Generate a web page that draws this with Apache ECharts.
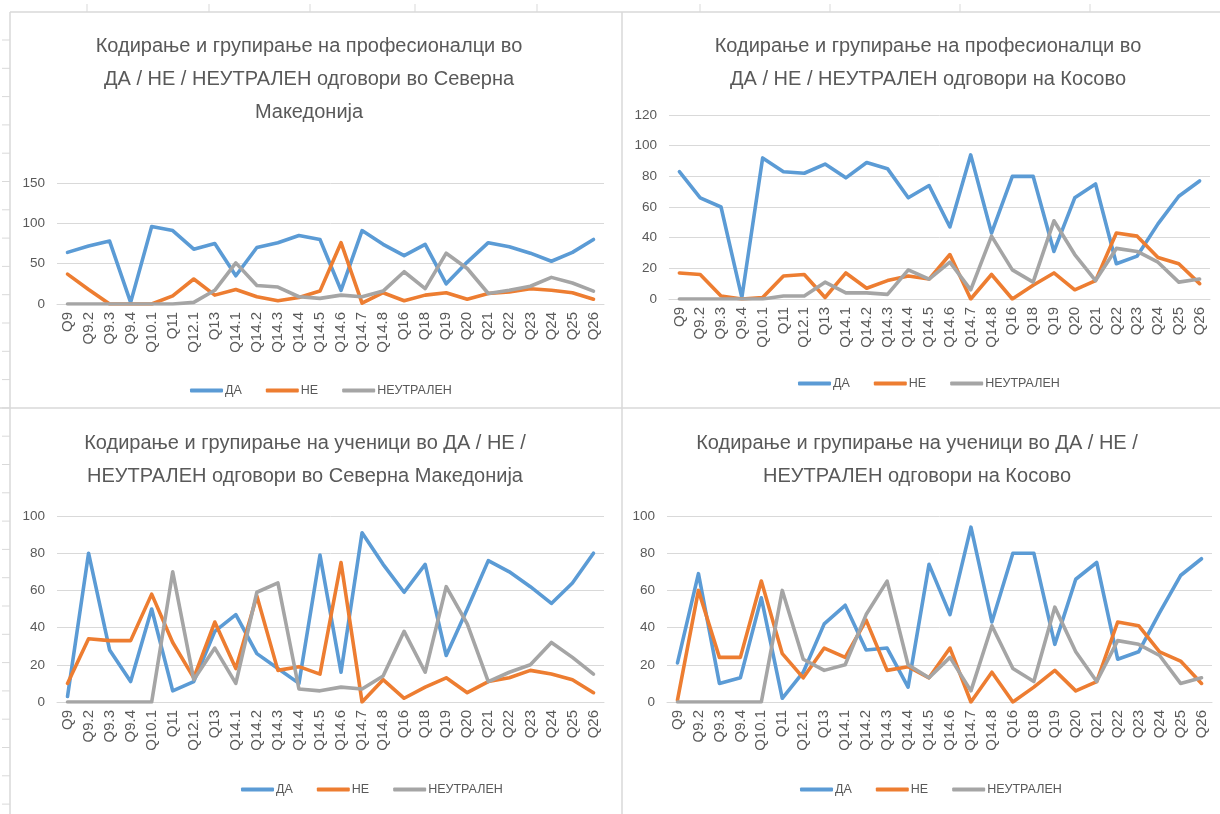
<!DOCTYPE html>
<html>
<head>
<meta charset="utf-8">
<script src="https://cdn.jsdelivr.net/npm/echarts@6/dist/echarts.min.js"></script>
<style>
html,body{margin:0;padding:0;background:#fff;}
#c{width:1220px;height:814px;}
</style>
</head>
<body>
<div id="c"></div>
<script>
const categories = ['Q9','Q9.2','Q9.3','Q9.4','Q10.1','Q11','Q12.1','Q13','Q14.1','Q14.2','Q14.3','Q14.4','Q14.5','Q14.6','Q14.7','Q14.8','Q16','Q18','Q19','Q20','Q21','Q22','Q23','Q24','Q25','Q26'];
const seriesNames = ['ДА','НЕ','НЕУТРАЛЕН'];

const titles = [
  'Кодирање и групирање на професионалци во\nДА / НЕ / НЕУТРАЛЕН одговори во Северна\nМакедонија',
  'Кодирање и групирање на професионалци во\nДА / НЕ / НЕУТРАЛЕН одговори на Косово',
  'Кодирање и групирање на ученици во ДА / НЕ /\nНЕУТРАЛЕН одговори во Северна Македонија',
  'Кодирање и групирање на ученици во ДА / НЕ /\nНЕУТРАЛЕН одговори на Косово'
];

// Chart 1: professionals, North Macedonia
const prof_mk_da  = [64,72,78,2,96,91,68,75,35,70,76,85,80,17,91,74,60,74,25,52,76,71,63,53,64,80];
const prof_mk_ne  = [37,18,0,0,0,10,31,11,18,9,4,8,16,76,1,14,4,11,14,6,13,15,19,17,14,6];
const prof_mk_neu = [0,0,0,0,0,0,2,17,51,23,21,9,7,11,9,16,40,19,63,44,13,17,22,33,26,16];

// Chart 2: professionals, Kosovo
const prof_ks_da  = [83,66,60,1,92,83,82,88,79,89,85,66,74,47,94,43,80,80,31,66,75,23,28,49,67,77];
const prof_ks_ne  = [17,16,2,0,1,15,16,1,17,7,12,15,13,29,0,16,0,9,17,6,12,43,41,27,23,10];
const prof_ks_neu = [0,0,0,0,0,2,2,11,4,4,3,19,13,24,6,41,19,11,51,29,12,33,31,24,11,13];

// Chart 3: students, North Macedonia
const stud_mk_da  = [3,80,28,11,50,6,11,38,47,26,18,10,79,16,91,74,59,74,25,50,76,70,62,53,64,80];
const stud_mk_ne  = [10,34,33,33,58,32,13,43,18,57,17,19,15,75,0,12,2,8,13,5,11,13,17,15,12,5];
const stud_mk_neu = [0,0,0,0,0,70,12,29,10,59,64,7,6,8,7,14,38,16,62,42,11,16,20,32,24,15];

// Chart 4: students, Kosovo
const stud_ks_da  = [21,69,10,13,56,2,16,42,52,28,29,8,74,47,94,43,80,80,31,66,75,23,27,48,68,77];
const stud_ks_ne  = [1,60,24,24,65,26,13,29,24,44,17,19,13,29,0,16,0,8,17,6,11,43,41,27,22,10];
const stud_ks_neu = [0,0,0,0,0,60,23,17,20,47,65,20,13,24,6,41,18,11,51,27,11,33,31,25,10,13];

const yMax = [150,120,100,100];
const yInterval = [50,20,20,20];
const chartData = [
  [prof_mk_da, prof_mk_ne, prof_mk_neu],
  [prof_ks_da, prof_ks_ne, prof_ks_neu],
  [stud_mk_da, stud_mk_ne, stud_mk_neu],
  [stud_ks_da, stud_ks_ne, stud_ks_neu]
];

const colors = ['#5B9BD5','#ED7D31','#A5A5A5'];
const FONT = 'Liberation Sans, Arial, sans-serif';
const TXT = '#595959';
const GRIDC = '#D9D9D9';

const grids = [
  {left:57, top:183, width:547, height:121},
  {left:669, top:115, width:541, height:184},
  {left:57, top:516, width:547, height:186},
  {left:667, top:516, width:545, height:186}
];
const titlePos = [
  {x:304, y:25},
  {x:923, y:25},
  {x:300, y:422},
  {x:912, y:422}
];
const legendPos = [
  {x:185, y:379},
  {x:793, y:372},
  {x:236, y:778},
  {x:795, y:778}
];

const option = {
  backgroundColor:'#fff',
  animation:false,
  color: colors,
  textStyle:{fontFamily:FONT},
  title: titles.map((t,i)=>({
    text:t, left:titlePos[i].x, top:titlePos[i].y, textAlign:'center',
    textStyle:{fontFamily:FONT, fontSize:20, fontWeight:'normal', color:TXT, lineHeight:33}
  })),
  legend: legendPos.map(p=>({
    data:seriesNames, left:p.x, top:p.y, icon:'roundRect', itemWidth:33, itemHeight:4, itemGap:24,
    textStyle:{fontFamily:FONT, fontSize:12.5, color:TXT, padding:[0,0,0,-3]}, selectedMode:false
  })),
  grid: grids.map(g=>Object.assign({containLabel:false}, g)),
  xAxis: grids.map((g,i)=>({
    type:'category', gridIndex:i, data:categories, boundaryGap:true,
    axisLine:{lineStyle:{color:GRIDC}}, axisTick:{show:false},
    axisLabel:{rotate:90, interval:0, color:TXT, fontSize:15, fontFamily:FONT, margin:8}
  })),
  yAxis: grids.map((g,i)=>({
    type:'value', gridIndex:i, min:0, max:yMax[i], interval:yInterval[i],
    axisLine:{show:false}, axisTick:{show:false},
    axisLabel:{color:TXT, fontSize:13.5, fontFamily:FONT, margin:12},
    splitLine:{lineStyle:{color:GRIDC, width:1}}
  })),
  series: [],
  graphic: []
};

chartData.forEach((arrs,ci)=>{
  arrs.forEach((arr,si)=>{
    option.series.push({
      type:'line', name:seriesNames[si], xAxisIndex:ci, yAxisIndex:ci, data:arr,
      showSymbol:false, symbol:'none', lineStyle:{width:3.6, color:colors[si], cap:'round', join:'round'},
      itemStyle:{color:colors[si]}
    });
  });
});

// sheet frame lines
const frame = [
  [10,12,1220,12],[10,12,10,814],[0,408,1220,408],[622,12,622,814]
];
frame.forEach(f=>option.graphic.push({type:'line', shape:{x1:f[0],y1:f[1],x2:f[2],y2:f[3]}, style:{stroke:'#D9D9D9', lineWidth:1.5}, silent:true}));
for(let y=40;y<814;y+=28.3){
  option.graphic.push({type:'line', shape:{x1:2,y1:y,x2:10,y2:y}, style:{stroke:'#D9D9D9', lineWidth:1}, silent:true});
}
[87,209,310,415,537,700,830,960,1090].forEach(x=>option.graphic.push({type:'line', shape:{x1:x,y1:4,x2:x,y2:12}, style:{stroke:'#D9D9D9', lineWidth:1}, silent:true}));

const chart = echarts.init(document.getElementById('c'), null, {renderer:'canvas'});
chart.setOption(option);
</script>
</body>
</html>
